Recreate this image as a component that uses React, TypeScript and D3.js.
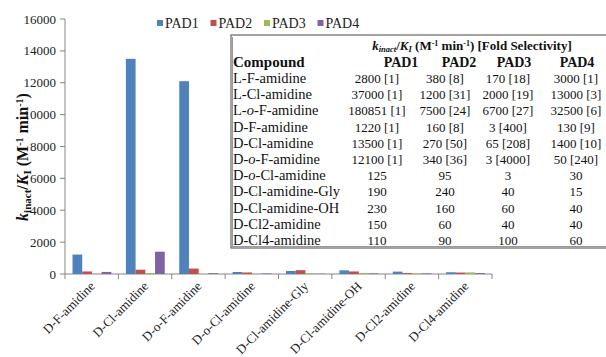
import React from 'react';
import * as d3 from 'd3';

const categories = ['D-F-amidine', 'D-Cl-amidine', 'D-o-F-amidine', 'D-o-Cl-amidine', 'D-Cl-amidine-Gly', 'D-Cl-amidine-OH', 'D-Cl2-amidine', 'D-Cl4-amidine'];
const seriesNames = ['PAD1', 'PAD2', 'PAD3', 'PAD4'];
const pad1 = [1220, 13500, 12100, 125, 190, 230, 150, 110];
const pad2 = [160, 270, 340, 95, 240, 160, 60, 90];
const pad3 = [3, 65, 3, 3, 40, 60, 40, 100];
const pad4 = [130, 1400, 50, 30, 15, 40, 40, 60];
const yTicks = [0, 2000, 4000, 6000, 8000, 10000, 12000, 14000, 16000];
const colors = ['#4f81bd', '#c0504d', '#9bbb59', '#8064a2'];

// table contents
const tableCompounds = ['L-F-amidine', 'L-Cl-amidine', 'L-o-F-amidine', 'D-F-amidine', 'D-Cl-amidine', 'D-o-F-amidine', 'D-o-Cl-amidine', 'D-Cl-amidine-Gly', 'D-Cl-amidine-OH', 'D-Cl2-amidine', 'D-Cl4-amidine'];
const tPad1 = ['2800 [1]', '37000 [1]', '180851 [1]', '1220 [1]', '13500 [1]', '12100 [1]', '125', '190', '230', '150', '110'];
const tPad2 = ['380 [8]', '1200 [31]', '7500 [24]', '160 [8]', '270 [50]', '340 [36]', '95', '240', '160', '60', '90'];
const tPad3 = ['170 [18]', '2000 [19]', '6700 [27]', '3 [400]', '65 [208]', '3 [4000]', '3', '40', '60', '40', '100'];
const tPad4 = ['3000 [1]', '13000 [3]', '32500 [6]', '130 [9]', '1400 [10]', '50 [240]', '30', '15', '40', '40', '60'];

const serif = { fontFamily: "'Liberation Serif', 'Times New Roman', monospace" };

// compound name with italic "o"
const Name = ({ s }: { s: string }) => {
  const m = s.match(/^([LD]-)o(-.*)$/);
  if (!m) return <>{s}</>;
  return <>{m[1]}<tspan fontStyle="italic">o</tspan>{m[2]}</>;
};

export default function App() {
  const series = [pad1, pad2, pad3, pad4];
  const x = d3.scaleBand<string>().domain(categories).range([65, 492]);
  const xs = d3.scaleBand<string>().domain(seriesNames).range([7.5, x.bandwidth() - 7]);
  const y = d3.scaleLinear().domain([0, 16000]).range([274, 19]);

  const tX = 231, tY = 35, tW = 385, tH = 213;
  const headX = [401, 459, 514, 577];
  const colX = [377, 445, 508, 576];
  const rowY = d3.scaleLinear().domain([0, tableCompounds.length - 1]).range([83, 245]);
  const cols = [tPad1, tPad2, tPad3, tPad4];

  return (
    <svg width={606} height={357} style={{ position: 'absolute', left: 0, top: 0, background: '#fff' }}>
      {/* y axis */}
      <line x1={65} x2={65} y1={y(16000)} y2={y(0)} stroke="#868686" />
      {yTicks.map(t => (
        <g key={t}>
          <line x1={60} x2={65} y1={y(t)} y2={y(t)} stroke="#868686" />
          <text x={56} y={y(t)} dy="0.35em" textAnchor="end" fontSize={13} fill="#222" style={serif}>{t}</text>
        </g>
      ))}
      {/* x axis */}
      <line x1={65} x2={492} y1={y(0)} y2={y(0)} stroke="#868686" />
      {[...categories.map(c => x(c)!), 492].map((px, i) => (
        <line key={i} x1={px} x2={px} y1={y(0)} y2={y(0) + 5} stroke="#868686" />
      ))}
      {categories.map(c => (
        <text key={c} transform={`translate(${x(c)! + x.bandwidth() / 2 + 4},${287}) rotate(-45)`} textAnchor="end" fontSize={13} fill="#222" style={serif}>
          {c}
        </text>
      ))}
      {/* bars */}
      {series.map((vals, si) => vals.map((v, ci) => (
        <rect key={`${si}-${ci}`} x={x(categories[ci])! + xs(seriesNames[si])!} width={xs.bandwidth()}
          y={y(v)} height={y(0) - y(v)} fill={colors[si]} />
      )))}
      {/* y label */}
      <text transform="translate(28,157) rotate(-90)" textAnchor="middle" fontSize={16} fontWeight="bold" fill="#111" style={serif}>
        <tspan fontStyle="italic">k</tspan><tspan fontSize={11} dy={3}>inact</tspan>
        <tspan dy={-3}>/</tspan><tspan fontStyle="italic">K</tspan><tspan fontSize={11} dy={3}>I</tspan>
        <tspan dy={-3}> (M</tspan><tspan fontSize={10} dy={-5}>-1</tspan><tspan dy={5}> min</tspan><tspan fontSize={10} dy={-5}>-1</tspan><tspan dy={5}>)</tspan>
      </text>
      {/* legend */}
      {seriesNames.map((s, i) => (
        <g key={s} transform={`translate(${157 + i * 53.5},0)`}>
          <rect x={0} y={20} width={6} height={6} fill={colors[i]} />
          <text x={8} y={27.5} fontSize={14} fill="#222" style={serif}>{s}</text>
        </g>
      ))}
      {/* table */}
      <rect x={tX} y={tY} width={tW} height={tH} fill="#fff" stroke="#666" strokeWidth={1.2} />
      <line x1={tX + 1.5} x2={tX + 1.5} y1={tY + 2} y2={tY + tH - 1} stroke="#999" />
      <line x1={tX + 1} x2={tX + tW} y1={tY + tH - 1.5} y2={tY + tH - 1.5} stroke="#999" />
      <text x={472} y={50} textAnchor="middle" fontSize={13} fontWeight="bold" fill="#111" style={serif}>
        <tspan fontStyle="italic">k</tspan><tspan fontSize={8.5} dy={2} fontStyle="italic">inact</tspan>
        <tspan dy={-2}>/</tspan><tspan fontStyle="italic">K</tspan><tspan fontSize={8.5} dy={2} fontStyle="italic">I</tspan>
        <tspan dy={-2}> (M</tspan><tspan fontSize={8} dy={-4}>-1</tspan><tspan dy={4}> min</tspan><tspan fontSize={8} dy={-4}>-1</tspan><tspan dy={4}>) [Fold Selectivity]</tspan>
      </text>
      <text x={233} y={67} fontSize={15} fontWeight="bold" fill="#111" style={serif}>Compound</text>
      {seriesNames.map((s, i) => (
        <text key={s} x={headX[i]} y={67} textAnchor="middle" fontSize={14} fontWeight="bold" fill="#111" style={serif}>{s}</text>
      ))}
      {tableCompounds.map((c, r) => (
        <g key={c}>
          <text x={233} y={rowY(r)} fontSize={14.5} fill="#111" style={serif}><Name s={c} /></text>
          {cols.map((col, i) => (
            <text key={i} x={colX[i]} y={rowY(r)} textAnchor="middle" fontSize={13} fill="#111" style={serif}>{col[r]}</text>
          ))}
        </g>
      ))}
    </svg>
  );
}
